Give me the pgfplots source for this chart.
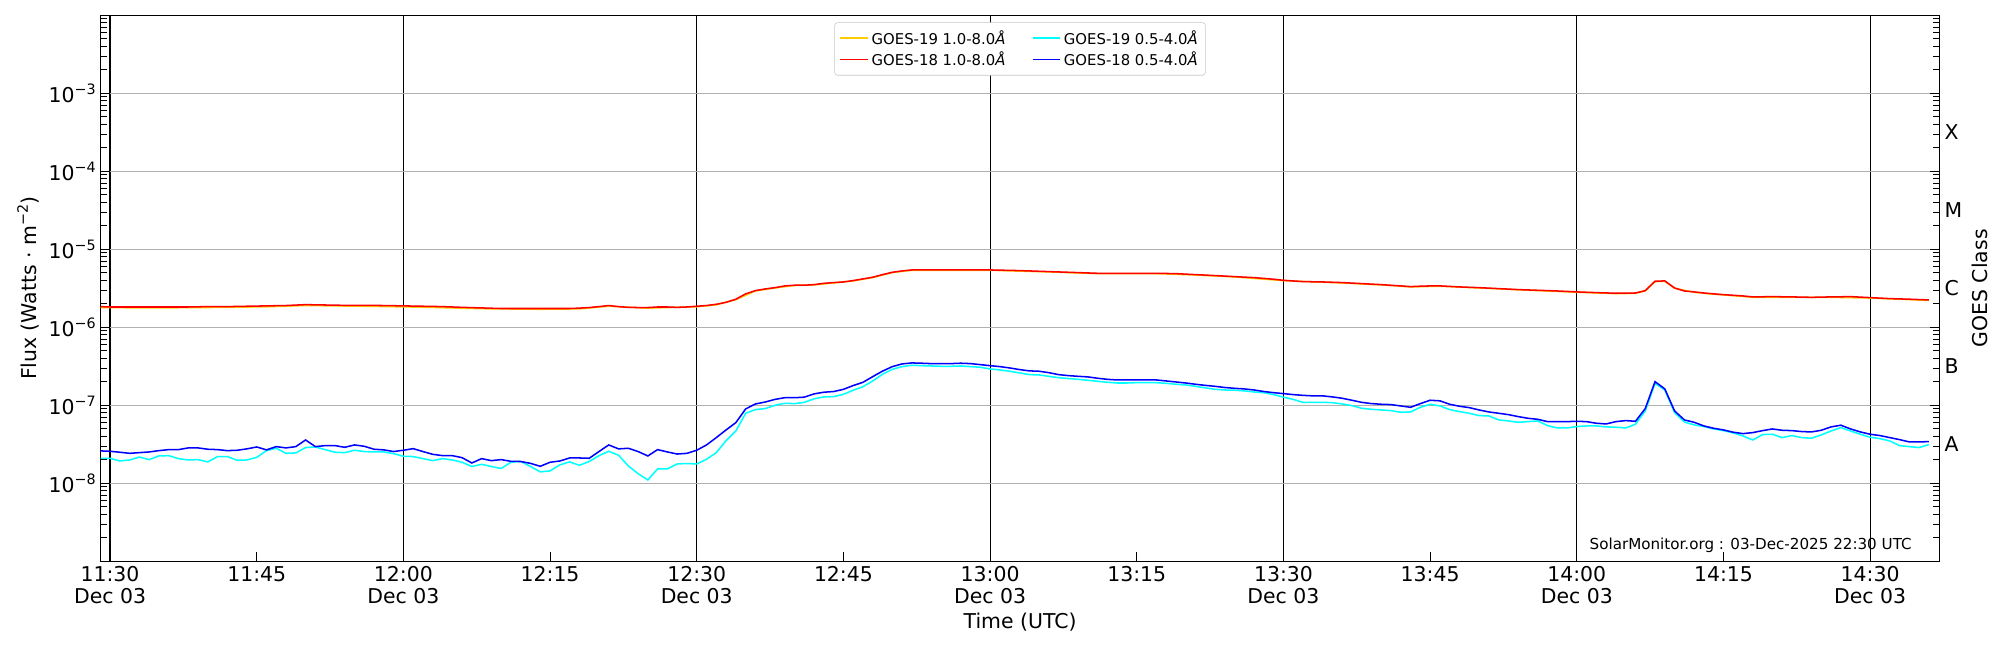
\documentclass[border=0pt]{standalone}
\usepackage{fontspec}
\setmainfont{DejaVu Sans}
\usepackage{pgfplots}
\pgfplotsset{compat=1.18}
\definecolor{gyellow}{HTML}{FFCC00}
\definecolor{gcyan}{HTML}{00FFFF}
\definecolor{gblue}{HTML}{0000FF}
\definecolor{gred}{HTML}{FF0000}
\definecolor{ggrid}{HTML}{B0B0B0}
\newcommand\ex[1]{\raisebox{0.42em}{\fontsize{10.3}{12}\selectfont #1}}
\newcommand\tl{\fontsize{14.7}{16}\selectfont}
\begin{document}
\begin{tikzpicture}
\useasboundingbox (-72.4pt,-63.9pt) rectangle (1367.6pt,404.1pt);
\begin{axis}[
  at={(0pt,0pt)}, anchor=south west, scale only axis,
  width=1324.1pt, height=393.1pt,
  xmin=-0.97, xmax=187.1,
  ymode=log, ymin=1e-9, ymax=1e-2,
  axis line style={line width=0.8pt},
  xtick={0,30,60,90,120,150,180},
  xticklabels={11:30\\Dec 03,12:00\\Dec 03,12:30\\Dec 03,13:00\\Dec 03,13:30\\Dec 03,14:00\\Dec 03,14:30\\Dec 03},
  extra x ticks={15,45,75,105,135,165},
  extra x tick labels={11:45,12:15,12:45,13:15,13:45,14:15},
  extra x tick style={grid=none},
  xtick pos=bottom,
  xmajorgrids, ymajorgrids,
  x grid style={black, line width=0.8pt},
  y grid style={ggrid, line width=0.8pt},
  ytick={1e-9,1e-8,1e-7,1e-6,1e-5,1e-4,1e-3,1e-2},
  yticklabels={,10\ex{−8},10\ex{−7},10\ex{−6},10\ex{−5},10\ex{−4},10\ex{−3},},
  minor ytick={2e-9,3e-9,4e-9,5e-9,6e-9,7e-9,8e-9,9e-9,
    2e-8,3e-8,4e-8,5e-8,6e-8,7e-8,8e-8,9e-8,
    2e-7,3e-7,4e-7,5e-7,6e-7,7e-7,8e-7,9e-7,
    2e-6,3e-6,4e-6,5e-6,6e-6,7e-6,8e-6,9e-6,
    2e-5,3e-5,4e-5,5e-5,6e-5,7e-5,8e-5,9e-5,
    2e-4,3e-4,4e-4,5e-4,6e-4,7e-4,8e-4,9e-4,
    2e-3,3e-3,4e-3,5e-3,6e-3,7e-3,8e-3,9e-3},
  major tick length=7pt, minor tick length=4.5pt,
  tick style={black, line width=0.7pt},
  xticklabel style={align=center, font=\tl},
  yticklabel style={font=\tl},
  xlabel={Time (UTC)}, ylabel={Flux (Watts · m\ex{−2})},
  label style={font=\tl},
  legend columns=2,
  legend style={at={(0.5,0.987)}, anchor=north, draw=black!22, rounded corners=2pt,
    font=\fontsize{10.7}{13}\selectfont, inner sep=3.5pt,
    /tikz/every even column/.append style={column sep=17pt}},
  legend cell align=left,
  legend image code/.code={\draw[#1] (0pt,0pt) -- (20pt,0pt);},
  every axis plot/.append style={line width=1.1pt},
]
\addplot[gyellow] coordinates {
(-1,1.79e-6) (4,1.77e-6) (10,1.79e-6) (16,1.83e-6) (20,1.90e-6) (26,1.86e-6) (32,1.81e-6) (38,1.73e-6) (44,1.70e-6) (48,1.72e-6) (51,1.86e-6) (55,1.76e-6) (60,1.83e-6) (62,1.94e-6) (64,2.26e-6) (66,2.92e-6) (68,3.19e-6) (70,3.43e-6) (72,3.49e-6) (74,3.70e-6) (76,3.93e-6) (78,4.34e-6) (80,5.02e-6) (82,5.38e-6) (90,5.38e-6) (96,5.12e-6) (101,4.87e-6) (107,4.87e-6) (111,4.68e-6) (115,4.42e-6) (120,3.96e-6) (126,3.70e-6) (130,3.49e-6) (133,3.29e-6) (136,3.36e-6) (140,3.19e-6) (146,2.95e-6) (150,2.81e-6) (154,2.70e-6) (156,2.72e-6) (157,2.92e-6) (158,3.85e-6) (159,3.89e-6) (160,3.16e-6) (162,2.81e-6) (164,2.65e-6) (166,2.54e-6) (168,2.42e-6) (172,2.42e-6) (176,2.42e-6) (180,2.37e-6) (184,2.26e-6) (186,2.21e-6)
};
\addlegendentry{GOES-19 1.0-8.0\textit{Å}}
\addplot[gcyan] coordinates {
(-1,2.09e-8) (0,2.09e-8) (1,1.93e-8) (2,1.99e-8) (3,2.17e-8) (4,2.01e-8) (5,2.24e-8) (6,2.26e-8) (7,2.07e-8) (8,1.99e-8) (9,2.01e-8) (10,1.88e-8) (11,2.20e-8) (12,2.20e-8) (13,1.97e-8) (14,1.99e-8) (15,2.15e-8) (16,2.62e-8) (17,2.81e-8) (18,2.42e-8) (19,2.45e-8) (20,2.87e-8) (21,2.92e-8) (22,2.70e-8) (23,2.50e-8) (24,2.47e-8) (25,2.65e-8) (26,2.55e-8) (27,2.52e-8) (28,2.52e-8) (29,2.40e-8) (30,2.22e-8) (31,2.20e-8) (32,2.07e-8) (33,1.95e-8) (34,2.07e-8) (35,1.99e-8) (36,1.86e-8) (37,1.64e-8) (38,1.75e-8) (39,1.64e-8) (40,1.55e-8) (41,1.86e-8) (42,1.91e-8) (43,1.64e-8) (44,1.40e-8) (45,1.44e-8) (46,1.72e-8) (47,1.88e-8) (48,1.70e-8) (49,1.90e-8) (50,2.26e-8) (51,2.57e-8) (52,2.29e-8) (53,1.67e-8) (54,1.33e-8) (55,1.10e-8) (56,1.53e-8) (57,1.53e-8) (58,1.77e-8) (59,1.79e-8) (60,1.77e-8) (61,2.03e-8) (62,2.47e-8) (63,3.52e-8) (64,4.68e-8) (65,7.90e-8) (66,8.80e-8) (67,9.06e-8) (68,1.00e-7) (69,1.06e-7) (70,1.05e-7) (71,1.09e-7) (72,1.21e-7) (73,1.28e-7) (74,1.29e-7) (75,1.38e-7) (76,1.56e-7) (77,1.73e-7) (78,2.05e-7) (79,2.50e-7) (80,2.89e-7) (81,3.13e-7) (82,3.26e-7) (83,3.22e-7) (84,3.19e-7) (85,3.16e-7) (86,3.16e-7) (87,3.19e-7) (88,3.13e-7) (89,3.07e-7) (90,2.92e-7) (91,2.84e-7) (92,2.73e-7) (93,2.60e-7) (94,2.47e-7) (95,2.45e-7) (96,2.35e-7) (97,2.26e-7) (98,2.20e-7) (99,2.15e-7) (100,2.09e-7) (101,2.03e-7) (102,1.97e-7) (103,1.93e-7) (104,1.93e-7) (105,1.95e-7) (106,1.95e-7) (107,1.95e-7) (108,1.91e-7) (109,1.86e-7) (110,1.82e-7) (111,1.75e-7) (112,1.67e-7) (113,1.60e-7) (114,1.57e-7) (115,1.56e-7) (116,1.53e-7) (117,1.48e-7) (118,1.45e-7) (119,1.37e-7) (120,1.27e-7) (121,1.19e-7) (122,1.09e-7) (123,1.09e-7) (124,1.09e-7) (125,1.08e-7) (126,1.04e-7) (127,9.90e-8) (128,9.14e-8) (129,8.88e-8) (130,8.71e-8) (131,8.54e-8) (132,8.13e-8) (133,8.21e-8) (134,9.42e-8) (135,1.03e-7) (136,9.80e-8) (137,8.80e-8) (138,8.29e-8) (139,7.90e-8) (140,7.37e-8) (141,7.30e-8) (142,6.49e-8) (143,6.30e-8) (144,6.05e-8) (145,6.17e-8) (146,6.30e-8) (147,5.49e-8) (148,5.12e-8) (149,5.12e-8) (150,5.33e-8) (151,5.43e-8) (152,5.43e-8) (153,5.28e-8) (154,5.23e-8) (155,5.12e-8) (156,5.71e-8) (157,8.46e-8) (158,1.91e-7) (159,1.57e-7) (160,8.05e-8) (161,6.11e-8) (162,5.60e-8) (163,5.33e-8) (164,4.97e-8) (165,4.73e-8) (166,4.42e-8) (167,4.04e-8) (168,3.59e-8) (169,4.21e-8) (170,4.25e-8) (171,3.85e-8) (172,4.09e-8) (173,3.85e-8) (174,3.78e-8) (175,4.17e-8) (176,4.68e-8) (177,5.17e-8) (178,4.68e-8) (179,4.25e-8) (180,3.89e-8) (181,3.74e-8) (182,3.49e-8) (183,3.04e-8) (184,2.95e-8) (185,2.87e-8) (186,3.13e-8)
};
\addlegendentry{GOES-19 0.5-4.0\textit{Å}}
\addplot[gred] coordinates {
(-1,1.84e-6) (0,1.82e-6) (2,1.82e-6) (4,1.82e-6) (6,1.82e-6) (8,1.82e-6) (10,1.84e-6) (12,1.84e-6) (14,1.86e-6) (16,1.88e-6) (18,1.90e-6) (20,1.95e-6) (22,1.93e-6) (24,1.91e-6) (26,1.91e-6) (28,1.90e-6) (30,1.88e-6) (32,1.86e-6) (34,1.84e-6) (36,1.80e-6) (38,1.77e-6) (40,1.74e-6) (44,1.74e-6) (47,1.74e-6) (48,1.76e-6) (49,1.79e-6) (50,1.84e-6) (51,1.90e-6) (52,1.84e-6) (53,1.80e-6) (54,1.79e-6) (55,1.79e-6) (56,1.82e-6) (57,1.82e-6) (58,1.80e-6) (59,1.82e-6) (60,1.86e-6) (61,1.90e-6) (62,1.97e-6) (63,2.09e-6) (64,2.29e-6) (65,2.68e-6) (66,2.95e-6) (67,3.10e-6) (68,3.22e-6) (69,3.39e-6) (70,3.46e-6) (71,3.46e-6) (72,3.52e-6) (73,3.66e-6) (74,3.74e-6) (75,3.81e-6) (76,3.97e-6) (77,4.17e-6) (78,4.38e-6) (79,4.73e-6) (80,5.07e-6) (81,5.28e-6) (82,5.43e-6) (86,5.43e-6) (90,5.43e-6) (93,5.33e-6) (96,5.17e-6) (99,5.02e-6) (101,4.92e-6) (104,4.92e-6) (107,4.92e-6) (109,4.87e-6) (111,4.73e-6) (113,4.60e-6) (115,4.46e-6) (117,4.33e-6) (119,4.13e-6) (120,4.00e-6) (122,3.85e-6) (124,3.81e-6) (126,3.74e-6) (128,3.63e-6) (130,3.52e-6) (132,3.39e-6) (133,3.32e-6) (134,3.36e-6) (135,3.39e-6) (136,3.39e-6) (138,3.29e-6) (140,3.22e-6) (142,3.13e-6) (144,3.04e-6) (146,2.98e-6) (148,2.92e-6) (150,2.84e-6) (152,2.78e-6) (154,2.73e-6) (156,2.75e-6) (157,2.95e-6) (158,3.89e-6) (159,3.93e-6) (160,3.19e-6) (161,2.92e-6) (162,2.84e-6) (163,2.75e-6) (164,2.68e-6) (165,2.62e-6) (166,2.57e-6) (167,2.52e-6) (168,2.45e-6) (170,2.47e-6) (172,2.45e-6) (174,2.42e-6) (176,2.45e-6) (178,2.47e-6) (180,2.40e-6) (182,2.33e-6) (184,2.29e-6) (186,2.24e-6)
};
\addlegendentry{GOES-18 1.0-8.0\textit{Å}}
\addplot[gblue] coordinates {
(-1,2.60e-8) (0,2.57e-8) (1,2.50e-8) (2,2.42e-8) (3,2.47e-8) (4,2.52e-8) (5,2.62e-8) (6,2.70e-8) (7,2.70e-8) (8,2.84e-8) (9,2.84e-8) (10,2.73e-8) (11,2.70e-8) (12,2.62e-8) (13,2.65e-8) (14,2.76e-8) (15,2.92e-8) (16,2.68e-8) (17,2.95e-8) (18,2.84e-8) (19,2.95e-8) (20,3.59e-8) (21,2.95e-8) (22,3.04e-8) (23,3.04e-8) (24,2.89e-8) (25,3.10e-8) (26,2.98e-8) (27,2.73e-8) (28,2.68e-8) (29,2.55e-8) (30,2.65e-8) (31,2.78e-8) (32,2.55e-8) (33,2.35e-8) (34,2.26e-8) (35,2.26e-8) (36,2.13e-8) (37,1.82e-8) (38,2.07e-8) (39,1.95e-8) (40,2.01e-8) (41,1.91e-8) (42,1.90e-8) (43,1.80e-8) (44,1.65e-8) (45,1.86e-8) (46,1.93e-8) (47,2.11e-8) (48,2.11e-8) (49,2.09e-8) (50,2.55e-8) (51,3.10e-8) (52,2.76e-8) (53,2.81e-8) (54,2.55e-8) (55,2.24e-8) (56,2.70e-8) (57,2.52e-8) (58,2.37e-8) (59,2.42e-8) (60,2.65e-8) (61,3.10e-8) (62,3.85e-8) (63,4.83e-8) (64,5.99e-8) (65,8.97e-8) (66,1.04e-7) (67,1.10e-7) (68,1.19e-7) (69,1.25e-7) (70,1.25e-7) (71,1.27e-7) (72,1.40e-7) (73,1.47e-7) (74,1.50e-7) (75,1.60e-7) (76,1.79e-7) (77,1.97e-7) (78,2.33e-7) (79,2.74e-7) (80,3.13e-7) (81,3.39e-7) (82,3.49e-7) (83,3.46e-7) (84,3.42e-7) (85,3.42e-7) (86,3.42e-7) (87,3.46e-7) (88,3.42e-7) (89,3.32e-7) (90,3.22e-7) (91,3.13e-7) (92,3.01e-7) (93,2.87e-7) (94,2.76e-7) (95,2.73e-7) (96,2.62e-7) (97,2.47e-7) (98,2.40e-7) (99,2.35e-7) (100,2.31e-7) (101,2.22e-7) (102,2.15e-7) (103,2.11e-7) (104,2.11e-7) (105,2.11e-7) (106,2.11e-7) (107,2.11e-7) (108,2.05e-7) (109,1.99e-7) (110,1.93e-7) (111,1.86e-7) (112,1.80e-7) (113,1.75e-7) (114,1.69e-7) (115,1.65e-7) (116,1.62e-7) (117,1.57e-7) (118,1.50e-7) (119,1.45e-7) (120,1.41e-7) (121,1.37e-7) (122,1.34e-7) (123,1.32e-7) (124,1.32e-7) (125,1.28e-7) (126,1.23e-7) (127,1.16e-7) (128,1.09e-7) (129,1.05e-7) (130,1.03e-7) (131,1.02e-7) (132,9.80e-8) (133,9.42e-8) (134,1.05e-7) (135,1.16e-7) (136,1.14e-7) (137,1.03e-7) (138,9.71e-8) (139,9.33e-8) (140,8.71e-8) (141,8.21e-8) (142,7.90e-8) (143,7.59e-8) (144,7.16e-8) (145,6.81e-8) (146,6.61e-8) (147,6.17e-8) (148,6.17e-8) (149,6.17e-8) (150,6.23e-8) (151,6.17e-8) (152,5.88e-8) (153,5.76e-8) (154,6.17e-8) (155,6.36e-8) (156,6.23e-8) (157,9.06e-8) (158,2.01e-7) (159,1.62e-7) (160,8.46e-8) (161,6.49e-8) (162,6.05e-8) (163,5.43e-8) (164,5.07e-8) (165,4.83e-8) (166,4.51e-8) (167,4.33e-8) (168,4.46e-8) (169,4.73e-8) (170,4.97e-8) (171,4.78e-8) (172,4.73e-8) (173,4.60e-8) (174,4.55e-8) (175,4.78e-8) (176,5.28e-8) (177,5.55e-8) (178,4.97e-8) (179,4.55e-8) (180,4.25e-8) (181,4.09e-8) (182,3.85e-8) (183,3.63e-8) (184,3.39e-8) (185,3.39e-8) (186,3.42e-8)
};
\addlegendentry{GOES-18 0.5-4.0\textit{Å}}
\node[anchor=base east, font=\fontsize{10.9}{13}\selectfont] at (rel axis cs:0.9875,0.022) {SolarMonitor.org : 03-Dec-2025 22:30 UTC};
\end{axis}
\begin{axis}[
  at={(0pt,0pt)}, anchor=south west, scale only axis,
  width=1324.1pt, height=393.1pt,
  xmin=-0.97, xmax=187.1,
  ymode=log, ymin=1e-9, ymax=1e-2,
  hide x axis, axis y line*=right, y axis line style={-, line width=0.8pt},
  ytick={3.162e-8,3.162e-7,3.162e-6,3.162e-5,3.162e-4},
  yticklabels={A,B,C,M,X},
  yminorticks=false, major tick length=0pt,
  yticklabel style={font=\tl},
  ylabel={GOES Class}, ylabel style={font=\tl},
]
\end{axis}
\end{tikzpicture}
\end{document}
